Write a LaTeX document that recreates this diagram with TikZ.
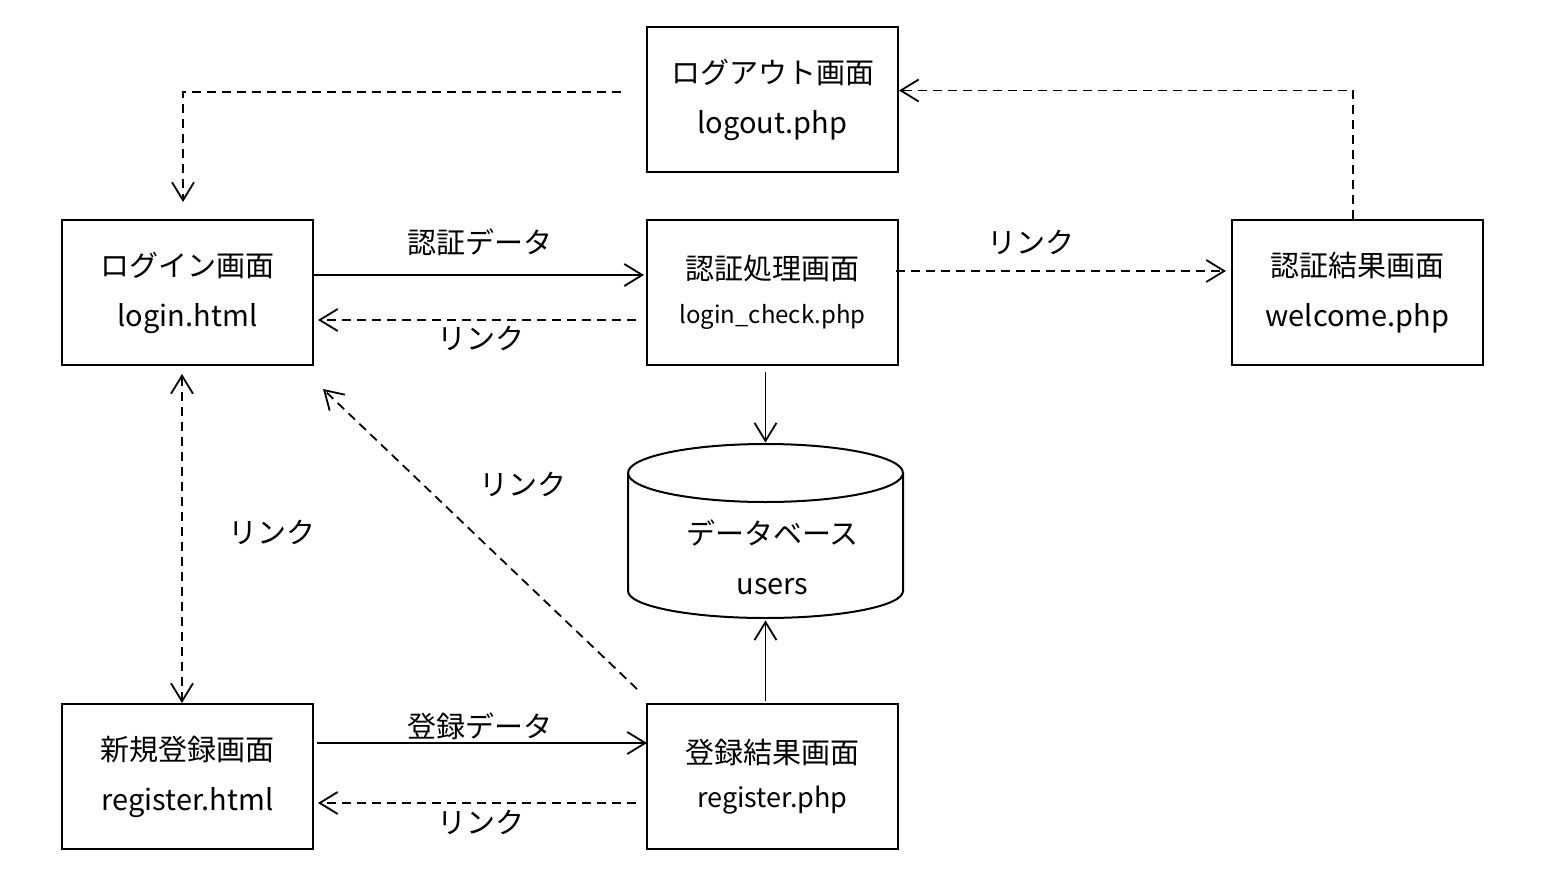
\documentclass[tikz,border=0pt]{standalone}
\usepackage{fontspec}
\setmainfont{Noto Sans CJK JP}
\usetikzlibrary{arrows.meta}
\begin{document}
\begin{tikzpicture}[x=0.5pt,y=-0.5pt,
  box/.style={draw, line width=1pt, minimum width=125.5pt, minimum height=72.5pt, align=center,
    font=\fontsize{14.5pt}{25pt}\selectfont, inner sep=0pt},
  lbl/.style={font=\fontsize{14.5pt}{17pt}\selectfont, inner sep=0pt},
  conn/.style={line width=0.9pt, -{Straight Barb[length=9pt,width=11pt,line width=0.9pt]}},
  dsh/.style={conn, dash pattern=on 4.5pt off 3pt}]
\useasboundingbox[fill=white] (0,0) rectangle (1544,878);

% boxes
\node[box] (logout) at (772.5,99.5) {ログアウト画面\\logout.php};
\node[box] (login) at (187.5,292.5) {ログイン画面\\login.html};
\node[box] (check) at (772.5,292.5) {認証処理画面\\[-3pt]{\fontsize{12pt}{14pt}\selectfont login\_check.php}};
\node[box] (welcome) at (1357.5,292.5) {認証結果画面\\welcome.php};
\node[box] (regh) at (187.5,776.5) {新規登録画面\\register.html};
\node[box] (regp) at (772.5,776.5) {登録結果画面\\[-3pt]{\fontsize{13.5pt}{15pt}\selectfont register.php}};

% database
\node[minimum width=137.5pt, minimum height=87.5pt, inner sep=0pt] (db) at (765.5,531.5) {};
\draw[line width=1pt] (628,473) -- (628,591)
  arc[start angle=180, end angle=360, x radius=68.75pt, y radius=13.5pt] -- (903,473);
\draw[line width=1pt] (765.5,473) ellipse[x radius=68.75pt, y radius=14.5pt];
\node[align=center, font=\fontsize{14.5pt}{25pt}\selectfont, inner sep=0pt] (dblabel) at (772.5,557.5) {データベース\\users};

% connectors
\draw[dsh] ([xshift=-12.5pt,yshift=3.75pt]logout.west) -| ([xshift=-2.25pt,yshift=8.5pt]login.north);
\draw[dsh] ([xshift=-2.25pt]welcome.north) |- ([yshift=4.5pt]logout.east);
\draw[conn] ([yshift=8.75pt]login.east) -- ([xshift=-1pt,yshift=8.75pt]check.west);
\draw[dsh] ([xshift=-5pt,yshift=-13.75pt]check.west) -- ([xshift=2pt,yshift=-13.75pt]login.east);
\draw[dsh] ([xshift=-1.5pt,yshift=10.75pt]check.east) -- ([xshift=-2.5pt,yshift=10.75pt]welcome.west);
\draw[conn] ([xshift=-3.5pt,yshift=-3pt]check.south) -- ([yshift=0.5pt]db.north);
\draw[conn] ([xshift=-3.5pt,yshift=1pt]regp.north) -- ([yshift=-0.5pt]db.south);
\draw[dsh, {Straight Barb[length=9pt,width=11pt,line width=0.9pt]}-{Straight Barb[length=9pt,width=11pt,line width=0.9pt]}]
  ([xshift=-2.75pt,yshift=-4pt]login.south) -- ([xshift=-2.75pt]regh.north);
\draw[dsh] ([xshift=-4.5pt,yshift=7pt]regp.north west) -- ([xshift=4.5pt,yshift=-11.5pt]login.south east);
\draw[conn] ([xshift=1.5pt,yshift=16.75pt]regh.east) -- ([xshift=0.5pt,yshift=16.75pt]regp.west);
\draw[dsh] ([xshift=-5pt,yshift=-13.25pt]regp.west) -- ([xshift=2pt,yshift=-13.25pt]regh.east);

% labels
\node[lbl] (l1) at (480,242) {認証データ};
\node[lbl] (l2) at (481,338) {リンク};
\node[lbl] (l3) at (1031,242) {リンク};
\node[lbl] (l4) at (523,484) {リンク};
\node[lbl] (l5) at (272,532) {リンク};
\node[lbl] (l6) at (480,726) {登録データ};
\node[lbl] (l7) at (481,822) {リンク};
\end{tikzpicture}
\end{document}
